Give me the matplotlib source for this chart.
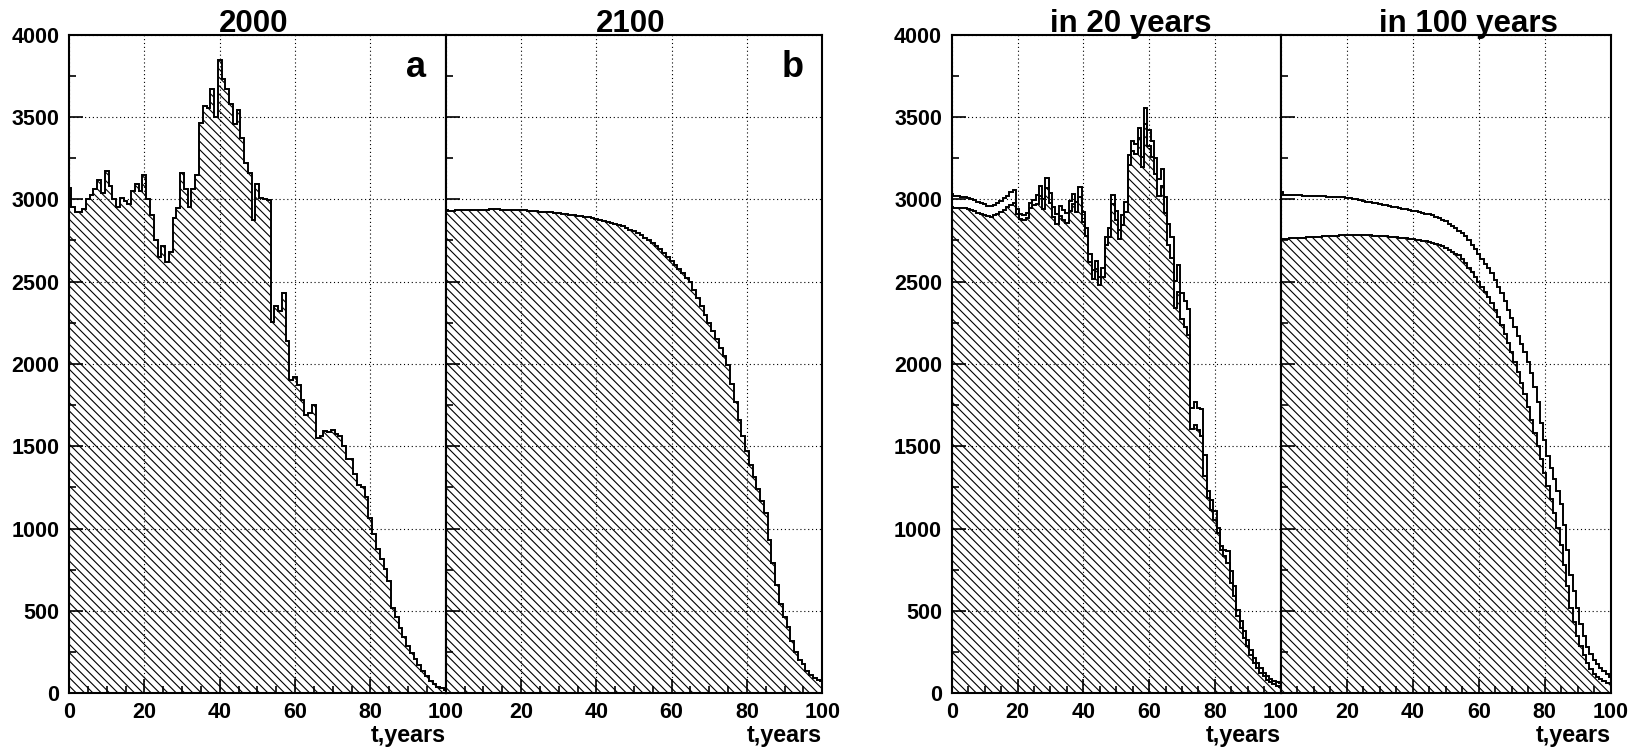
import matplotlib
matplotlib.use("Agg")
import matplotlib.pyplot as plt
import numpy as np
from matplotlib.ticker import MultipleLocator

# one bin per year of age, bins centred on whole years (0..100)
ages = np.arange(0, 101)

# a: population by age, year 2000
pop_2000 = [3070, 2955, 2925, 2925, 2940, 3000, 3025, 3060, 3115, 3040,
            3170, 3080, 3000, 2955, 3010, 2990, 2970, 3050, 3095, 3050,
            3145, 3000, 2905, 2750, 2650, 2715, 2620, 2680, 2885, 2945,
            3160, 3065, 2955, 3060, 3150, 3465, 3565, 3555, 3670, 3500,
            3845, 3730, 3670, 3580, 3457, 3545, 3375, 3220, 3160, 2875,
            3095, 3005, 3000, 2995, 2255, 2350, 2320, 2430, 2140, 1903,
            1919, 1872, 1780, 1690, 1705, 1750, 1550, 1560, 1590, 1585,
            1600, 1575, 1565, 1500, 1425, 1425, 1330, 1263, 1255, 1194,
            1063, 967, 874, 814, 753, 682, 516, 463, 395, 344,
            289, 243, 208, 172, 138, 105, 77, 57, 40, 30,
            20]

# b: population by age, year 2100
pop_2100 = [2935, 2930, 2932, 2934, 2935, 2936, 2936, 2937, 2937, 2938,
            2938, 2938, 2939, 2940, 2940, 2938, 2936, 2937, 2938, 2938,
            2936, 2934, 2932, 2930, 2928, 2926, 2924, 2922, 2920, 2918,
            2916, 2913, 2910, 2907, 2904, 2900, 2897, 2894, 2890, 2886,
            2882, 2873, 2869, 2864, 2858, 2851, 2843, 2835, 2826, 2816,
            2806, 2794, 2781, 2767, 2752, 2735, 2717, 2698, 2677, 2652,
            2625, 2600, 2575, 2550, 2525, 2495, 2450, 2400, 2350, 2300,
            2250, 2200, 2150, 2100, 2050, 1995, 1880, 1770, 1660, 1560,
            1470, 1385, 1315, 1240, 1165, 1093, 930, 790, 660, 540,
            465, 405, 320, 250, 205, 180, 135, 112, 95, 82,
            72]

# c: in 20 years, two variants (hatched one and open outline)
in20_fill = [2951, 2945, 2945, 2945, 2945, 2942, 2933, 2928, 2917, 2910,
             2903, 2897, 2895, 2903, 2913, 2925, 2937, 2951, 2968, 2975,
             2910, 2880, 2877, 2889, 2946, 2968, 2969, 3021, 2944, 3069,
             2977, 2895, 2848, 2899, 2876, 2854, 2929, 2970, 2923, 3013,
             2865, 2777, 2620, 2518, 2575, 2478, 2531, 2722, 2774, 2974,
             2877, 2756, 2847, 2923, 3211, 3295, 3275, 3371, 3195, 3457,
             3324, 3254, 3151, 3022, 3083, 2914, 2723, 2644, 2341, 2440,
             2274, 2225, 2176, 1605, 1632, 1601, 1565, 1318, 1186, 1115,
             1055, 973, 873, 832, 792, 670, 589, 468, 397, 336,
             285, 235, 184, 154, 124, 103, 83, 67, 59, 47,
             40]
in20_line = [3032, 3018, 3018, 3016, 3012, 3010, 3002, 2994, 2986, 2978,
             2970, 2962, 2960, 2968, 2978, 2990, 3006, 3022, 3047, 3055,
             2940, 2910, 2907, 2919, 2976, 2998, 3029, 3081, 3004, 3129,
             3037, 2955, 2908, 2959, 2936, 2914, 2989, 3030, 2983, 3073,
             2925, 2827, 2670, 2568, 2625, 2528, 2581, 2772, 2824, 3024,
             2927, 2816, 2907, 2983, 3271, 3355, 3335, 3431, 3255, 3557,
             3424, 3354, 3251, 3122, 3183, 3014, 2853, 2774, 2501, 2600,
             2434, 2385, 2336, 1733, 1767, 1733, 1727, 1449, 1227, 1176,
             1105, 1004, 893, 873, 863, 741, 650, 508, 437, 377,
             326, 265, 215, 184, 154, 124, 103, 87, 77, 67,
             60]

# d: in 100 years
in100_fill = [2758, 2760, 2762, 2764, 2765, 2766, 2767, 2768, 2769, 2770,
              2771, 2772, 2774, 2775, 2776, 2778, 2779, 2780, 2781, 2782,
              2783, 2784, 2784, 2784, 2783, 2782, 2782, 2781, 2780, 2779,
              2778, 2777, 2776, 2774, 2772, 2770, 2768, 2766, 2764, 2761,
              2758, 2755, 2752, 2749, 2746, 2742, 2737, 2731, 2724, 2716,
              2706, 2694, 2682, 2670, 2660, 2640, 2612, 2585, 2560, 2530,
              2500, 2470, 2440, 2405, 2370, 2330, 2285, 2235, 2180, 2125,
              2070, 2010, 1950, 1885, 1815, 1740, 1660, 1580, 1500, 1420,
              1340, 1260, 1180, 1095, 1005, 900, 780, 650, 520, 430,
              350, 285, 230, 185, 150, 120, 100, 85, 72, 65,
              60]
in100_line = [3042, 3028, 3026, 3026, 3025, 3024, 3024, 3023, 3022, 3022,
              3021, 3020, 3019, 3018, 3017, 3016, 3015, 3014, 3013, 3012,
              3010, 3007, 3003, 2999, 2995, 2990, 2986, 2983, 2979, 2975,
              2971, 2967, 2963, 2959, 2955, 2951, 2947, 2943, 2939, 2935,
              2931, 2927, 2923, 2918, 2913, 2908, 2902, 2895, 2887, 2877,
              2866, 2852, 2838, 2824, 2810, 2795, 2775, 2750, 2725, 2700,
              2670, 2640, 2610, 2580, 2550, 2510, 2470, 2430, 2380, 2330,
              2280, 2225, 2170, 2120, 2070, 2015, 1945, 1860, 1770, 1640,
              1540, 1440, 1370, 1300, 1230, 1150, 1020, 870, 720, 620,
              520, 420, 350, 280, 240, 205, 180, 155, 135, 115,
              100]

plt.rcParams['font.family'] = ['Liberation Sans', 'DejaVu Sans']
plt.rcParams['font.weight'] = 'bold'
plt.rcParams['hatch.linewidth'] = 0.8

edges = np.append(ages - 0.5, ages[-1] + 0.5)

fig = plt.figure(figsize=(16.34, 7.47), dpi=100)


def panel(rect, filled, outline=None, ylabels=True, first_xlabel=True):
    ax = fig.add_axes(rect)
    ax.stairs(filled, edges, fill=True, facecolor='none', edgecolor='black',
              hatch='\\\\\\\\', linewidth=0)
    ax.stairs(filled, edges, color='black', linewidth=1.4)
    if outline is not None:
        ax.stairs(outline, edges, color='black', linewidth=1.4)
    ax.set_xlim(0, 100)
    ax.set_ylim(0, 4000)
    ax.xaxis.set_major_locator(MultipleLocator(20))
    ax.xaxis.set_minor_locator(MultipleLocator(5))
    ax.yaxis.set_major_locator(MultipleLocator(500))
    ax.yaxis.set_minor_locator(MultipleLocator(250))
    ax.tick_params(which='both', direction='in', top=False, right=False, width=1.2,
                   labelsize=15.5)
    ax.tick_params(which='major', length=10)
    ax.tick_params(which='minor', length=5)
    ax.tick_params(axis='x', pad=6)
    ax.tick_params(axis='y', pad=7)
    ax.grid(True, which='major', color='black', linestyle=(0, (1, 2.5)), linewidth=0.8)
    ax.set_xticks([0, 20, 40, 60, 80, 100])
    if first_xlabel:
        ax.set_xticklabels(['0', '20', '40', '60', '80', '100'])
    else:
        ax.set_xticklabels(['', '20', '40', '60', '80', '100'])
    if not ylabels:
        ax.set_yticklabels([])
    for s in ax.spines.values():
        s.set_linewidth(1.5)
    ax.text(1.0, -0.074, 't,years', transform=ax.transAxes, ha='right',
            va='baseline', fontsize=16.8)
    return ax


bottom, height = 0.0719, 0.8817
ax_a = panel([0.04223, bottom, 0.23054, height], pop_2000)
ax_b = panel([0.27277, bottom, 0.23048, height], pop_2100, ylabels=False, first_xlabel=False)
ax_c = panel([0.58244, bottom, 0.20135, height], in20_fill, in20_line)
ax_d = panel([0.78397, bottom, 0.20177, height], in100_fill, in100_line,
             ylabels=False, first_xlabel=False)

ax_a.text(0.948, 0.936, 'a', transform=ax_a.transAxes, ha='right', va='baseline', fontsize=26)
ax_b.text(0.951, 0.936, 'b', transform=ax_b.transAxes, ha='right', va='baseline', fontsize=26)

fig.text(0.1553, 0.9565, '2000', ha='center', va='baseline', fontsize=22.5)
fig.text(0.3859, 0.9565, '2100', ha='center', va='baseline', fontsize=22.5)
fig.text(0.6921, 0.9565, 'in 20 years', ha='center', va='baseline', fontsize=22.5)
fig.text(0.8988, 0.9565, 'in 100 years', ha='center', va='baseline', fontsize=22.5)

fig.savefig("out.png", dpi=100)
